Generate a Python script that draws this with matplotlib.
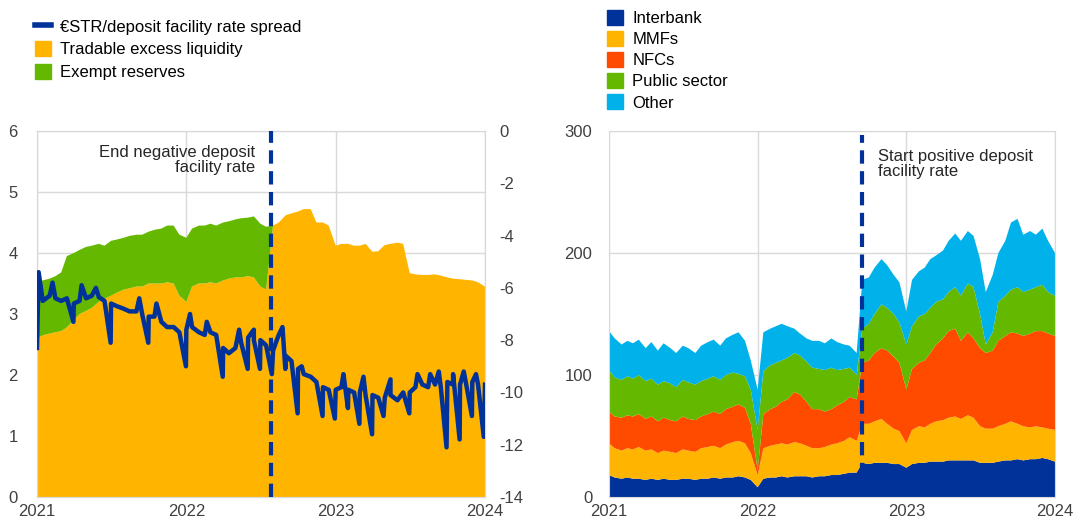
import matplotlib
matplotlib.use('Agg')
import matplotlib.pyplot as plt
import matplotlib.patches as mpatches
from matplotlib.lines import Line2D
import pandas as pd
import numpy as np

plt.rcParams['font.family'] = ['Liberation Sans', 'DejaVu Sans']
plt.rcParams['axes.unicode_minus'] = False

# semi-monthly observation dates, Jan 2021 - Jan 2024
dates = pd.date_range('2021-01-01', '2024-01-01', freq='SMS')

# left panel: excess liquidity (EUR trillions)
tradable = [2.6, 2.65, 2.68, 2.7, 2.72, 2.78, 2.9, 3.0, 3.05, 3.1, 3.2, 3.25,
            3.3, 3.35, 3.4, 3.42, 3.45, 3.45, 3.5, 3.5, 3.5, 3.52, 3.5, 3.3,
            3.2, 3.45, 3.5, 3.5, 3.52, 3.5, 3.55, 3.58, 3.6, 3.6, 3.62, 3.6,
            3.45, 3.4, 4.45, 4.5, 4.62, 4.65, 4.68, 4.72, 4.72, 4.5, 4.5, 4.45,
            4.12, 4.15, 4.15, 4.12, 4.12, 4.15, 4.02, 4.03, 4.13, 4.15, 4.17, 4.15,
            3.67, 3.65, 3.64, 3.64, 3.65, 3.63, 3.6, 3.58, 3.57, 3.56, 3.55, 3.52,
            3.45]
exempt = [0.9, 0.9, 0.9, 0.92, 0.96, 1.17, 1.1, 1.05, 1.05, 1.02, 0.95, 0.87,
          0.9, 0.87, 0.85, 0.86, 0.85, 0.85, 0.85, 0.88, 0.9, 0.93, 0.95, 1.0,
          1.05, 0.95, 0.95, 0.95, 0.96, 0.95, 0.95, 0.94, 0.95, 0.97, 0.96, 1.0,
          1.03, 1.03] + [0.0] * 35

# €STR/DFR spread (basis points), semi-monthly level
spread = [-8.3, -6.5, -6.3, -6.4, -6.5, -6.4, -6.6, -6.5, -6.4, -6.3, -6.35, -6.5,
          -6.6, -6.7, -6.8, -6.9, -6.9, -7.0, -7.1, -7.1, -7.3, -7.5, -7.5, -7.7,
          -7.6, -7.5, -7.7, -7.8, -7.7, -7.8, -8.3, -8.5, -8.3, -8.1, -7.9, -8.0,
          -8.0, -8.2, -8.4, -7.8, -8.6, -8.8, -9.1, -9.3, -9.4, -9.6, -9.8, -9.9,
          -9.9, -9.8, -9.9, -10.0, -10.0, -10.1, -10.1, -10.2, -10.2, -10.1, -10.3, -10.0,
          -10.0, -9.8, -9.7, -9.8, -9.7, -9.8, -9.6, -9.7, -9.7, -9.6, -9.6, -9.7,
          -9.7]
# intra-month moves in the spread (month-end dips and upward jumps)
spike_dates = ['2021-01-05', '2021-02-08', '2021-03-31', '2021-04-20', '2021-05-25',
               '2021-06-30', '2021-09-08', '2021-09-30', '2021-10-20', '2021-12-31',
               '2022-01-10', '2022-02-20', '2022-03-31', '2022-05-10', '2022-05-31',
               '2022-06-15', '2022-06-30', '2022-07-29', '2022-08-10', '2022-08-24',
               '2022-08-31', '2022-09-30', '2022-10-10', '2022-11-30', '2022-12-30',
               '2023-01-20', '2023-01-31', '2023-02-28', '2023-03-10', '2023-03-31',
               '2023-04-28', '2023-05-15', '2023-06-30', '2023-07-20', '2023-08-20',
               '2023-09-10', '2023-09-29', '2023-10-15', '2023-10-31', '2023-11-10',
               '2023-11-30', '2023-12-10', '2023-12-29']
spike_vals = [-5.4, -5.8, -7.3, -5.9, -6.0,
              -8.1, -6.4, -8.1, -6.6, -9.0,
              -7.0, -7.3, -9.4, -7.6, -9.1,
              -7.6, -9.1, -9.3, -8.0, -7.5,
              -9.1, -10.8, -9.0, -10.9, -11.0,
              -9.3, -10.6, -11.2, -9.4, -11.6,
              -10.9, -9.5, -10.8, -9.3, -9.3,
              -9.2, -12.1, -9.3, -11.8, -9.2,
              -10.9, -9.3, -11.7]

# right panel: cumulative level of each segment (EUR billions)
lvl_interbank = [18, 16, 15, 16, 15, 15, 14, 15, 14, 15, 14, 14, 15, 15, 14, 15, 15, 16, 15, 16, 16, 17, 16, 14,
                 8, 15, 16, 16, 17, 16, 17, 17, 17, 16, 17, 17, 18, 18, 19, 20, 20, 28, 27, 28, 28, 28, 27, 27,
                 24, 27, 28, 28, 29, 29, 29, 30, 30, 30, 30, 30, 28, 28, 28, 29, 30, 30, 31, 30, 31, 31, 32, 31,
                 29]
lvl_mmf = [44, 40, 38, 40, 39, 41, 38, 39, 36, 38, 37, 36, 39, 38, 37, 40, 41, 42, 40, 43, 45, 46, 44, 36,
           18, 40, 42, 43, 44, 43, 45, 44, 42, 40, 40, 41, 43, 44, 46, 49, 46, 60, 60, 62, 64, 60, 56, 54,
           44, 55, 58, 57, 60, 62, 63, 65, 66, 64, 67, 65, 58, 56, 56, 58, 60, 62, 60, 58, 57, 58, 57, 56,
           55]
lvl_nfc = [70, 66, 65, 67, 66, 68, 64, 66, 62, 65, 63, 62, 66, 64, 63, 66, 68, 70, 68, 72, 74, 76, 73, 60,
           22, 68, 72, 74, 78, 80, 86, 84, 78, 72, 72, 70, 72, 75, 78, 82, 80, 110, 112, 118, 122, 120, 115, 110,
           88, 105, 110, 112, 118, 125, 130, 136, 138, 128, 135, 130, 122, 118, 120, 128, 132, 135, 134, 132, 134, 136, 136, 134,
           132]
lvl_public = [104, 98, 96, 99, 97, 100, 95, 97, 92, 95, 93, 90, 96, 94, 92, 95, 97, 99, 96, 100, 102, 101, 99, 88,
              55, 103, 108, 110, 112, 114, 118, 116, 111, 106, 105, 104, 106, 104, 105, 106, 100, 138, 142, 150, 158, 155, 150, 143,
              125, 140, 148, 150, 155, 160, 162, 168, 172, 165, 175, 172, 150, 125, 135, 160, 165, 170, 172, 168, 170, 172, 174, 168,
              165]
lvl_other = [136, 130, 125, 128, 126, 129, 122, 127, 120, 126, 122, 118, 124, 122, 118, 124, 127, 129, 124, 130, 133, 135, 128, 112,
             88, 135, 138, 140, 142, 140, 138, 134, 130, 128, 128, 126, 130, 127, 125, 124, 118, 178, 180, 188, 195, 190, 182, 176,
             152, 178, 185, 188, 195, 198, 202, 210, 216, 210, 218, 214, 195, 168, 182, 200, 210, 225, 228, 215, 218, 215, 220, 210,
             200]

end_neg_dfr = pd.Timestamp('2022-07-27')
start_pos_dfr = pd.Timestamp('2022-09-14')

blue = '#003299'
yellow = '#ffb400'
red = '#ff4b00'
green = '#65b800'
cyan = '#00b1ea'
grid_c = '#d9d9d9'
text_c = '#404040'
fs = 12

fig = plt.figure(figsize=(10.76, 5.22), dpi=100)
ax = fig.add_axes([37 / 1076, 25 / 522, 448 / 1076, 366 / 522])
axr = fig.add_axes([609 / 1076, 25 / 522, 446 / 1076, 366 / 522])


def style_axis(a):
    a.set_axisbelow(True)
    a.grid(True, color=grid_c, linewidth=1)
    for s in a.spines.values():
        s.set_color(grid_c)
    a.tick_params(length=0, labelsize=fs, colors=text_c, pad=5)
    a.set_xlim(pd.Timestamp('2021-01-01'), pd.Timestamp('2024-01-01'))
    yrs = [pd.Timestamp(str(y) + '-01-01') for y in range(2021, 2025)]
    a.set_xticks(yrs)
    a.set_xticklabels([str(y) for y in range(2021, 2025)])


# left panel
style_axis(ax)
ax.stackplot(dates, tradable, exempt, colors=[yellow, green], linewidth=0)
ax.set_ylim(0, 6)
ax.set_yticks(range(0, 7))
ax.tick_params(axis='y', pad=14)

ax2 = ax.twinx()
sp = pd.concat([pd.Series(spread, index=dates),
                pd.Series(spike_vals, index=pd.to_datetime(spike_dates))]).sort_index()
ax2.plot(sp.index, sp.values, color=blue, linewidth=3.2, zorder=3)
ax2.axvline(end_neg_dfr, color=blue, linewidth=3, linestyle=(0, (3.2, 1.8)), zorder=4)
ax2.set_ylim(-14, 0)
ax2.set_yticks(range(-14, 1, 2))
for s in ax2.spines.values():
    s.set_color(grid_c)
ax2.tick_params(length=0, labelsize=fs, colors=text_c, pad=10)
ax2.text(0.487, 0.962, 'End negative deposit\nfacility rate', transform=ax.transAxes,
         ha='right', va='top', fontsize=fs, color='#262626', linespacing=1.0)

leg1 = [Line2D([0], [0], color=blue, linewidth=4),
        mpatches.Patch(color=yellow), mpatches.Patch(color=green)]
fig.legend(leg1, ['€STR/deposit facility rate spread', 'Tradable excess liquidity', 'Exempt reserves'],
           loc='upper left', bbox_to_anchor=(28 / 1076, 1 - 12 / 522), frameon=False,
           fontsize=fs, handlelength=1.0, handleheight=1.0, handletextpad=0.55,
           labelspacing=0.38, borderaxespad=0)

# right panel
style_axis(axr)
levels = np.array([lvl_interbank, lvl_mmf, lvl_nfc, lvl_public, lvl_other], dtype=float)
parts = np.diff(np.vstack([np.zeros(len(dates)), levels]), axis=0)
axr.stackplot(dates, parts, colors=[blue, yellow, red, green, cyan], linewidth=0)
axr.axvline(start_pos_dfr, ymax=0.99, color=blue, linewidth=3, linestyle=(0, (3.2, 1.8)))
axr.set_ylim(0, 300)
axr.set_yticks([0, 100, 200, 300])
axr.tick_params(axis='y', pad=12)
axr.text(0.603, 0.95, 'Start positive deposit\nfacility rate', transform=axr.transAxes,
         ha='left', va='top', fontsize=fs, color='#262626', linespacing=1.0)

leg2 = [mpatches.Patch(color=c) for c in [blue, yellow, red, green, cyan]]
fig.legend(leg2, ['Interbank', 'MMFs', 'NFCs', 'Public sector', 'Other'],
           loc='upper left', bbox_to_anchor=(600 / 1076, 1 - 3 / 522), frameon=False,
           fontsize=fs, handlelength=1.0, handleheight=1.0, handletextpad=0.55,
           labelspacing=0.3, borderaxespad=0)

fig.savefig('out.png', dpi=100)
